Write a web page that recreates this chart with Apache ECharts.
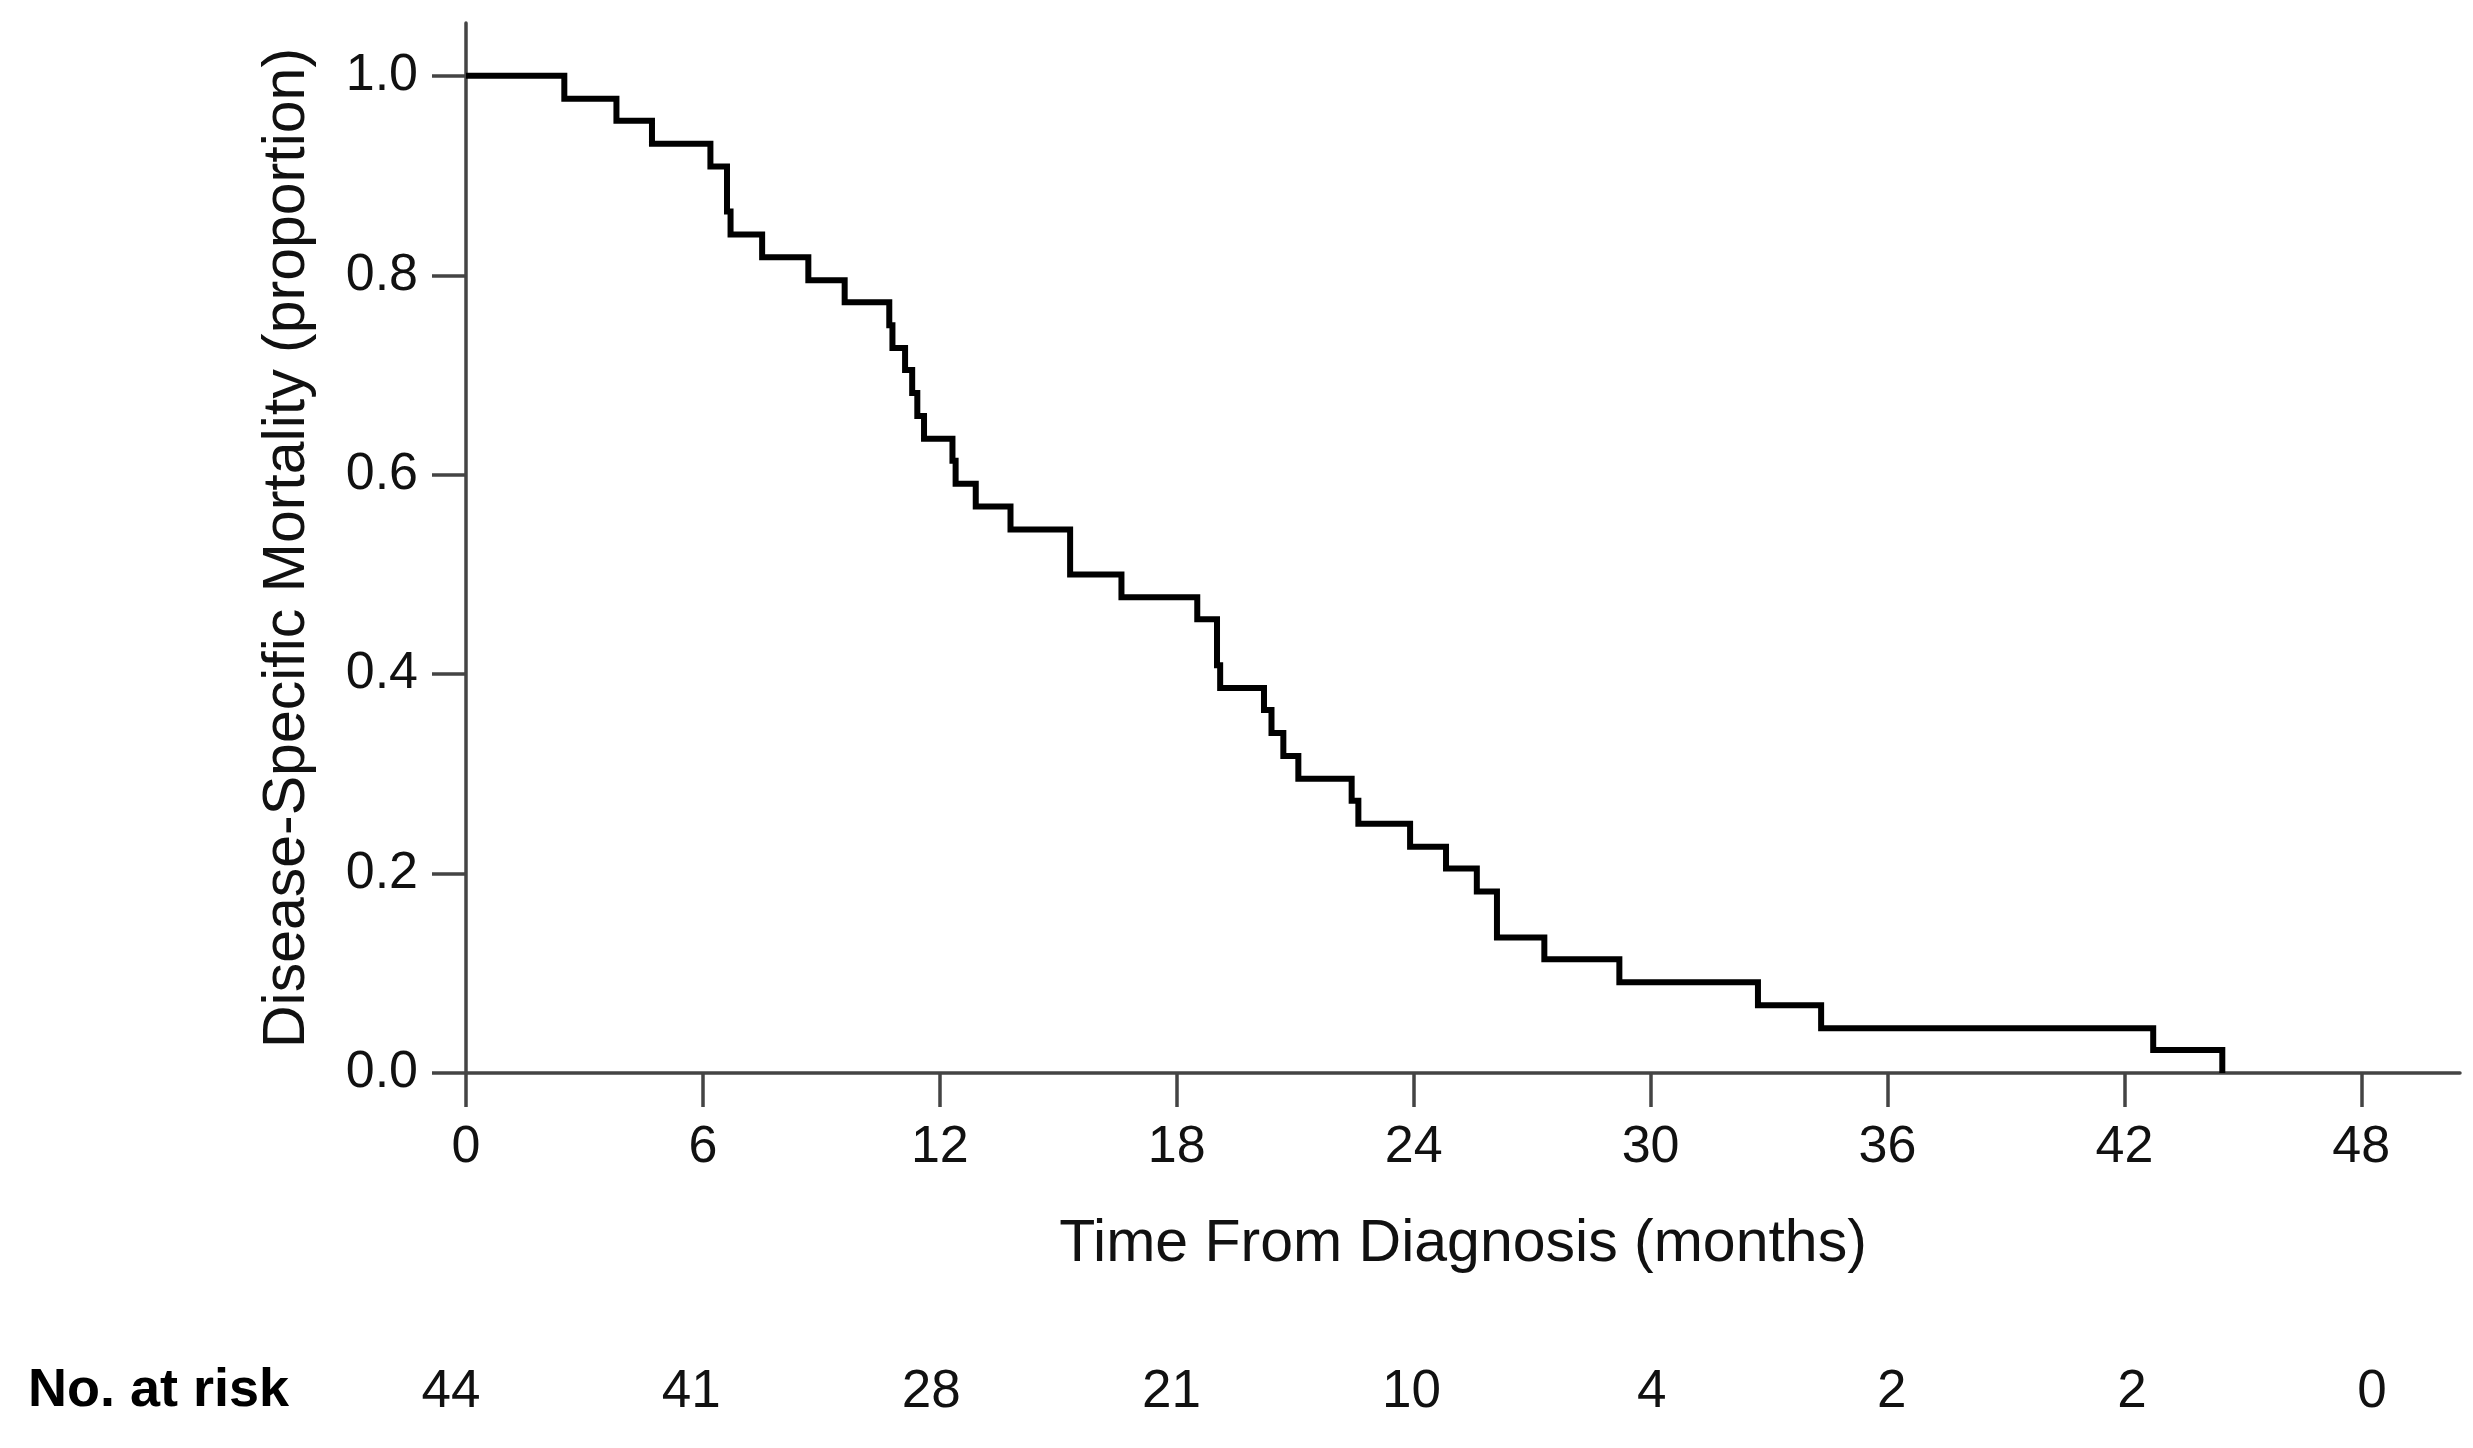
<!DOCTYPE html>
<html>
<head>
<meta charset="utf-8">
<script src="https://cdn.jsdelivr.net/npm/echarts@6/dist/echarts.min.js"></script>
<style>
html,body{margin:0;padding:0;background:#fff;}
#chart{width:2473px;height:1448px;}
</style>
</head>
<body>
<div id="chart"></div>
<script>
// Kaplan-Meier step times (months) and proportion after each step
const timeMonths = [0, 2.49, 3.81, 4.71, 6.19, 6.61, 6.70, 7.50, 8.67, 9.59, 10.72, 10.80, 11.12, 11.30, 11.43, 11.60, 12.32, 12.40, 12.91, 13.79, 15.30, 16.60, 18.52, 19.02, 19.10, 20.21, 20.40, 20.70, 21.08, 22.43, 22.60, 23.91, 24.82, 25.60, 26.11, 27.31, 29.21, 32.72, 34.32, 42.73, 44.48];
const mortality = [1.000, 0.977, 0.955, 0.932, 0.909, 0.864, 0.841, 0.818, 0.795, 0.773, 0.750, 0.727, 0.705, 0.682, 0.659, 0.636, 0.614, 0.591, 0.568, 0.545, 0.500, 0.477, 0.455, 0.409, 0.386, 0.364, 0.341, 0.318, 0.295, 0.273, 0.250, 0.227, 0.205, 0.182, 0.136, 0.114, 0.091, 0.068, 0.045, 0.023, 0.000];
const xTicks = [0, 6, 12, 18, 24, 30, 36, 42, 48];
const yTicks = [0, 0.2, 0.4, 0.6, 0.8, 1.0];
const atRisk = [44, 41, 28, 21, 10, 4, 2, 2, 0];

const FONT = "'Liberation Sans', Arial, Helvetica, sans-serif";
const AXIS_COLOR = '#444';

const chart = echarts.init(document.getElementById('chart'), null, {renderer: 'canvas'});
const seriesData = timeMonths.map((t, i) => [t, mortality[i]]);

chart.setOption({
  backgroundColor: '#fff',
  animation: false,
  grid: [
    {left: 466, top: 23, right: 13, bottom: 375, containLabel: false},
    {left: 451, top: 1391, width: 1921, height: 1, containLabel: false}
  ],
  xAxis: [
    {
      type: 'value', gridIndex: 0, min: 0, max: 50.5,
      name: 'Time From Diagnosis (months)', nameLocation: 'middle', nameGap: 172,
      nameTextStyle: {fontFamily: FONT, fontSize: 59, color: '#111', verticalAlign: 'middle'},
      axisLine: {show: true, onZero: false, lineStyle: {color: AXIS_COLOR, width: 3.5}},
      axisTick: {show: true, length: 34, lineStyle: {color: AXIS_COLOR, width: 3.5}, customValues: xTicks},
      axisLabel: {show: true, fontFamily: FONT, fontSize: 52, color: '#111', margin: 75, verticalAlign: 'middle', customValues: xTicks},
      splitLine: {show: false}
    },
    {
      type: 'value', gridIndex: 1, min: 0, max: 48,
      axisLine: {show: false}, axisTick: {show: false}, splitLine: {show: false},
      axisLabel: {
        show: true, fontFamily: FONT, fontSize: 53, color: '#111', margin: 0, verticalAlign: 'middle',
        customValues: xTicks,
        formatter: function (v) { const i = xTicks.indexOf(v); return i >= 0 ? String(atRisk[i]) : ''; }
      }
    }
  ],
  yAxis: [
    {
      type: 'value', gridIndex: 0, min: 0, max: 1.053,
      name: 'Disease-Specific Mortality (proportion)', nameLocation: 'middle', nameGap: 178, nameRotate: 90,
      nameTextStyle: {fontFamily: FONT, fontSize: 59, color: '#111', verticalAlign: 'middle'},
      axisLine: {show: true, onZero: false, lineStyle: {color: AXIS_COLOR, width: 3.5}},
      axisTick: {show: true, length: 34, lineStyle: {color: AXIS_COLOR, width: 3.5}, customValues: yTicks},
      axisLabel: {show: true, fontFamily: FONT, fontSize: 52, color: '#111', margin: 48, customValues: yTicks,
        formatter: function (v) { return v.toFixed(1); }},
      splitLine: {show: false}
    },
    {
      type: 'value', gridIndex: 1, min: 0, max: 1, show: false
    }
  ],
  graphic: [
    {
      type: 'text', x: 28, y: 1391, z: 10,
      style: {text: 'No. at risk', fontFamily: FONT, fontSize: 54, fontWeight: 'bold', fill: '#000', verticalAlign: 'middle', align: 'left'}
    }
  ],
  series: [
    {
      type: 'line', xAxisIndex: 0, yAxisIndex: 0, step: 'end', symbol: 'none',
      data: seriesData, z: 5,
      lineStyle: {color: '#000', width: 6, join: 'miter', cap: 'butt'}
    }
  ]
});
</script>
</body>
</html>
